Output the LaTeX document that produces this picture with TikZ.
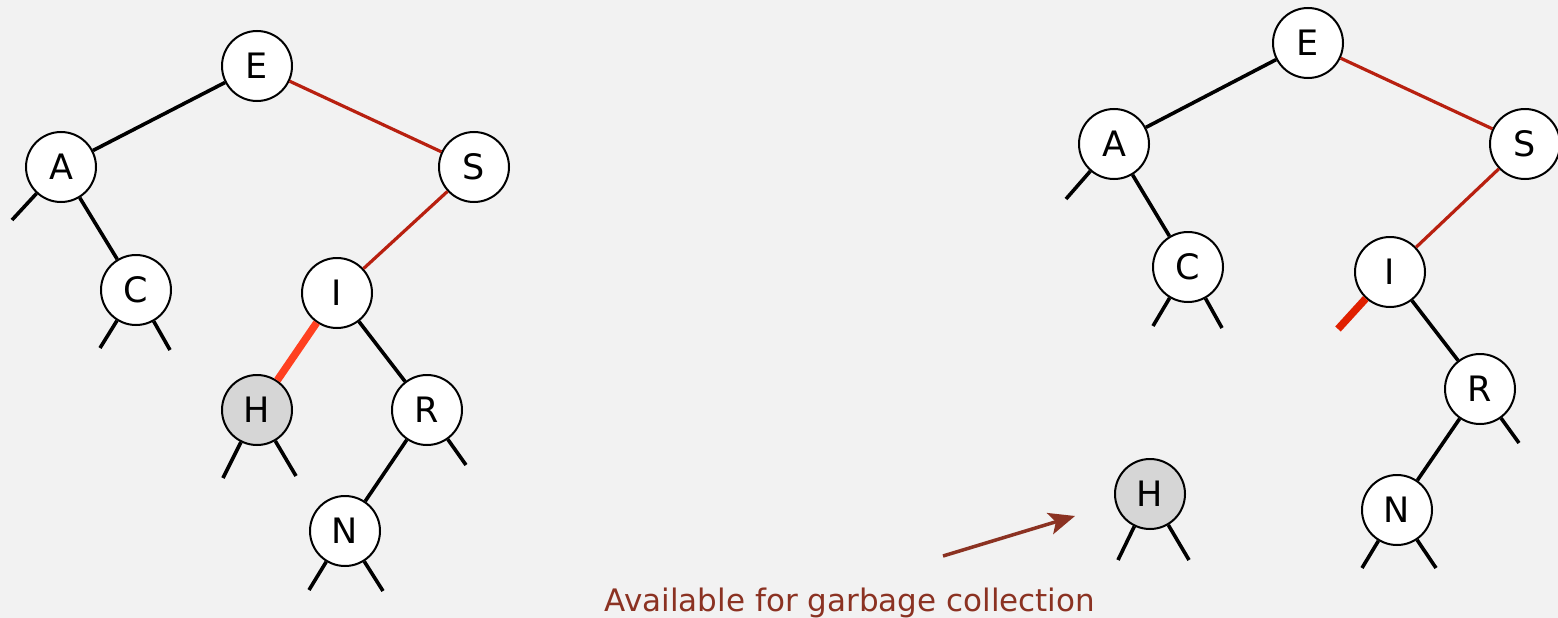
\documentclass[tikz,border=0pt]{standalone}
\usepackage{fontspec}
\setmainfont{DejaVu Sans}
\usetikzlibrary{arrows.meta}
\definecolor{bg}{HTML}{F2F2F2}
\definecolor{redlink}{HTML}{B82010}
\definecolor{hotlink}{HTML}{FF4020}
\definecolor{hotlinkb}{HTML}{E02000}
\definecolor{brownred}{HTML}{8B3222}
\definecolor{grayfill}{HTML}{D6D6D6}
\begin{document}
\begin{tikzpicture}[x=1pt,y=-1pt,
  treenode/.style={circle,draw=black,line width=2pt,fill=white,minimum size=70pt,inner sep=0pt,font=\fontsize{35}{35}\selectfont},
  deadnode/.style={treenode,fill=grayfill},
  blk/.style={line width=3.6pt,black},
  redl/.style={line width=3.2pt,redlink},
  hotl/.style={line width=7.5pt,hotlink},
  hotlb/.style={line width=7.5pt,hotlinkb}]
\fill[bg] (0,0) rectangle (1558,618);
\useasboundingbox (0,0) rectangle (1558,618);
% left tree
\node[treenode] (E1) at (257,66) {E};
\node[treenode] (A1) at (61,167) {A};
\node[treenode] (S1) at (474,167) {S};
\node[treenode] (C1) at (136,290) {C};
\node[treenode] (I1) at (337,293) {I};
\node[deadnode] (H1) at (257,410) {H};
\node[treenode] (R1) at (427,410) {R};
\node[treenode] (N1) at (345,531) {N};
\coordinate (a1l) at (12,220);
\coordinate (c1l) at (100,348);
\coordinate (c1r) at (170,350);
\coordinate (h1l) at (223,478);
\coordinate (h1r) at (296,476);
\coordinate (r1r) at (466,465);
\coordinate (n1l) at (309,590);
\coordinate (n1r) at (383,591);
\draw[blk] (E1) -- (A1);
\draw[redl] (E1) -- (S1);
\draw[redl] (S1) -- (I1);
\draw[blk] (A1) -- (C1);
\draw[hotl] (I1) -- (H1);
\draw[blk] (I1) -- (R1);
\draw[blk] (R1) -- (N1);
\draw[blk] (A1) -- (a1l);
\draw[blk] (C1) -- (c1l);
\draw[blk] (C1) -- (c1r);
\draw[blk] (H1) -- (h1l);
\draw[blk] (H1) -- (h1r);
\draw[blk] (R1) -- (r1r);
\draw[blk] (N1) -- (n1l);
\draw[blk] (N1) -- (n1r);
% right tree
\node[treenode] (E2) at (1308,43) {E};
\node[treenode] (A2) at (1114,144) {A};
\node[treenode] (S2) at (1525,144) {S};
\node[treenode] (C2) at (1188,267) {C};
\node[treenode] (I2) at (1390,272) {I};
\node[treenode] (R2) at (1480,389) {R};
\node[treenode] (N2) at (1397,510) {N};
\node[deadnode] (H2) at (1150,494) {H};
\coordinate (a2l) at (1066,199);
\coordinate (c2l) at (1153,326);
\coordinate (c2r) at (1222,328);
\coordinate (i2l) at (1338,329);
\coordinate (r2r) at (1519,443);
\coordinate (n2l) at (1362,568);
\coordinate (n2r) at (1436,568);
\coordinate (h2l) at (1118,560);
\coordinate (h2r) at (1189,560);
\draw[blk] (E2) -- (A2);
\draw[redl] (E2) -- (S2);
\draw[redl] (S2) -- (I2);
\draw[blk] (A2) -- (C2);
\draw[blk] (I2) -- (R2);
\draw[blk] (R2) -- (N2);
\draw[hotlb] (I2) -- (i2l);
\draw[blk] (A2) -- (a2l);
\draw[blk] (C2) -- (c2l);
\draw[blk] (C2) -- (c2r);
\draw[blk] (R2) -- (r2r);
\draw[blk] (N2) -- (n2l);
\draw[blk] (N2) -- (n2r);
\draw[blk] (H2) -- (h2l);
\draw[blk] (H2) -- (h2r);
% annotation
\coordinate (arrs) at (943,556);
\coordinate (arre) at (1075,516);
\draw[line width=3.5pt,brownred,-{Stealth[length=26pt,width=22pt,inset=6pt]}] (arrs) -- (arre);
\node[text=brownred,font=\fontsize{31}{31}\selectfont,anchor=base] (lbl) at (850,611) {Available for garbage collection};
\end{tikzpicture}
\end{document}
